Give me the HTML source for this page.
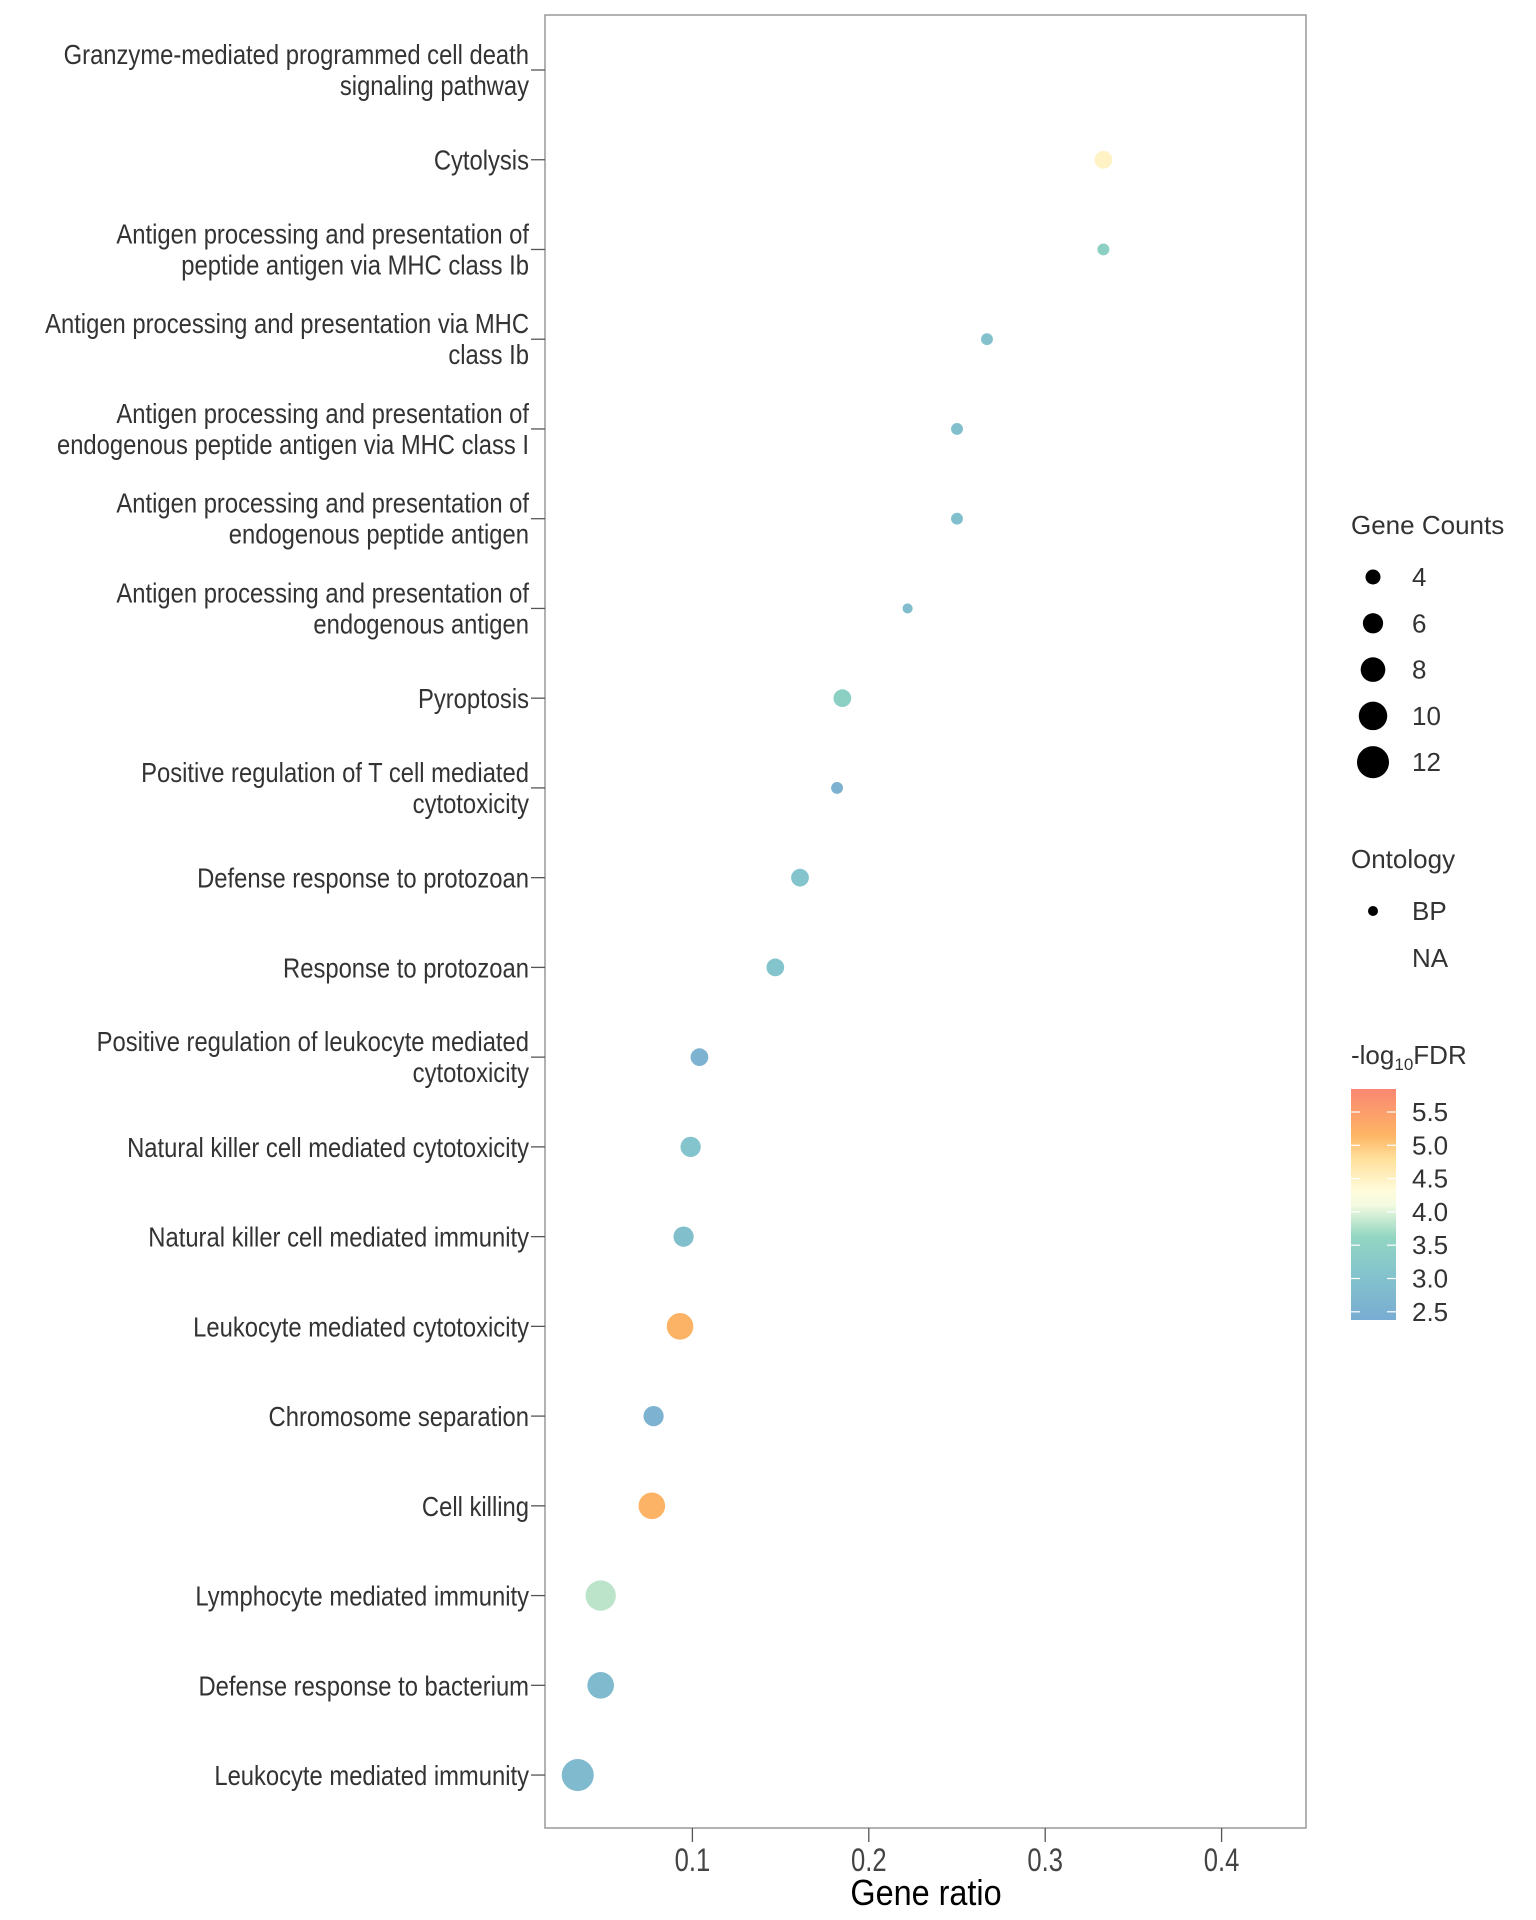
<!DOCTYPE html>
<html><head><meta charset="utf-8"><style>
body{margin:0;background:#fff;}
svg{display:block;font-family:"Liberation Sans",sans-serif;}
</style></head><body>
<svg id="chart" width="1536" height="1920" viewBox="0 0 1536 1920">
<defs>
<linearGradient id="fdrgrad" x1="0" y1="1" x2="0" y2="0">
<stop offset="0" stop-color="#79acd2"/>
<stop offset="0.2" stop-color="#84c4cc"/>
<stop offset="0.36" stop-color="#93d6c2"/>
<stop offset="0.5" stop-color="#f4fbe0"/>
<stop offset="0.56" stop-color="#fffbdb"/>
<stop offset="0.7" stop-color="#ffdf9a"/>
<stop offset="0.8" stop-color="#fdb565"/>
<stop offset="1" stop-color="#fa8672"/>
</linearGradient>
</defs>
<rect x="545" y="15" width="761" height="1813" fill="none" stroke="#999" stroke-width="1.5"/>
<g id="yaxis"></g>
<g id="xaxis"></g>
<g id="points"></g>
<text x="926" y="1905" text-anchor="middle" font-size="36" fill="#000" transform="translate(926 0) scale(0.9 1) translate(-926 0)">Gene ratio</text>
<g id="legend">
<text x="1351" y="534" font-size="26" fill="#333">Gene Counts</text>
<g id="sizeLegend"></g>
<text x="1351" y="868" font-size="26" fill="#333">Ontology</text>
<circle cx="1373" cy="911" r="5" fill="#000"/>
<text x="1412" y="920" font-size="26" fill="#333">BP</text>
<text x="1412" y="967" font-size="26" fill="#333">NA</text>
<text x="1351" y="1064" font-size="26" fill="#333">-log<tspan font-size="17" dy="6">10</tspan><tspan dy="-6">FDR</tspan></text>
<rect x="1351" y="1089" width="45" height="231" fill="url(#fdrgrad)"/>
<g id="cbTicks"></g>
</g>
</svg>
<script>
const categories = ["Granzyme-mediated programmed cell death|signaling pathway","Cytolysis","Antigen processing and presentation of|peptide antigen via MHC class Ib","Antigen processing and presentation via MHC|class Ib","Antigen processing and presentation of|endogenous peptide antigen via MHC class I","Antigen processing and presentation of|endogenous peptide antigen","Antigen processing and presentation of|endogenous antigen","Pyroptosis","Positive regulation of T cell mediated|cytotoxicity","Defense response to protozoan","Response to protozoan","Positive regulation of leukocyte mediated|cytotoxicity","Natural killer cell mediated cytotoxicity","Natural killer cell mediated immunity","Leukocyte mediated cytotoxicity","Chromosome separation","Cell killing","Lymphocyte mediated immunity","Defense response to bacterium","Leukocyte mediated immunity"];
const geneRatio = [null,0.333,0.333,0.267,0.25,0.25,0.222,0.185,0.182,0.161,0.147,0.104,0.099,0.095,0.093,0.078,0.077,0.048,0.048,0.035];
const geneCounts = [null,5,3,3,3,3,2.5,5,3,5,5,5,6,6,9,6,9,11,9,12];
const fdr = [null,4.3,3.3,2.95,2.9,2.9,2.85,3.3,2.55,3.0,3.0,2.6,3.0,2.9,4.9,2.6,4.9,3.7,2.8,2.8];
const xTicks = [0.1,0.2,0.3,0.4];
const sizeKeys = [4,6,8,10,12];
const cbTicks = [2.5,3.0,3.5,4.0,4.5,5.0,5.5];

const NS="http://www.w3.org/2000/svg";
const xs = v => 516 + v*1764;
const ys = i => 70 + i*89.74;
const rs = c => 5.82*Math.sqrt(c) - 4.14;
const cy = v => 1112 + (5.5 - v)*66.6;
const stops=[[2.38,[121,172,210]],[2.8,[128,186,206]],[3.0,[132,196,204]],[3.3,[140,208,196]],[3.6,[168,220,196]],[4.0,[244,251,224]],[4.2,[255,251,219]],[4.5,[255,223,154]],[4.85,[253,181,101]],[5.85,[250,134,114]]];
function col(v){for(let i=0;i<stops.length-1;i++){const[a,ca]=stops[i],[b,cb]=stops[i+1];if(v<=b){const t=Math.max(0,(v-a)/(b-a));return `rgb(${ca.map((x,k)=>Math.round(x+(cb[k]-x)*t)).join(',')})`;}}return 'rgb(250,134,114)';}
function mk(tag,attrs,parent){const e=document.createElementNS(NS,tag);for(const k in attrs)e.setAttribute(k,attrs[k]);parent.appendChild(e);return e;}

const yaxis=document.getElementById('yaxis');
categories.forEach((c,i)=>{
  const y=ys(i);
  const t=mk('line',{x1:531,x2:545,y1:y,y2:y,stroke:'#555','stroke-width':1.3},yaxis);
  
  
  const lines=c.split('|');
  const tx=mk('text',{x:529,'text-anchor':'end','font-size':28,fill:'#333',transform:`translate(529 0) scale(0.85 1) translate(-529 0)`},yaxis);
  
  
  lines.forEach((l,k)=>{const sp=mk('tspan',{x:529,y:(lines.length===1?y+10:y-6+k*31)},tx);sp.textContent=l;});
});
const xaxis=document.getElementById('xaxis');
xTicks.forEach(v=>{
  const x=xs(v);
  const t=mk('line',{x1:x,x2:x,y1:1828,y2:1842,stroke:'#555','stroke-width':1.3},xaxis);
  
  
  const tx=mk('text',{x:x,y:1871,'text-anchor':'middle','font-size':32,fill:'#444',transform:`translate(${x} 0) scale(0.8 1) translate(${-x} 0)`},xaxis);
  
  
  tx.textContent=v.toFixed(1);
});
const pts=document.getElementById('points');
geneRatio.forEach((v,i)=>{
  if(v===null)return;
  const c=mk('circle',{cx:xs(v),cy:ys(i),r:rs(geneCounts[i]),fill:col(fdr[i])},pts);
  
  
});
const sl=document.getElementById('sizeLegend');
sizeKeys.forEach((s,k)=>{
  const y=577+k*46.3;
  const c=mk('circle',{cx:1373,cy:y,r:rs(s),fill:'#000'},sl);
  
  
  const t=mk('text',{x:1412,y:y+9,'font-size':26,fill:'#333'},sl);
  
  
  t.textContent=s;
});
const cb=document.getElementById('cbTicks');
cbTicks.forEach(v=>{
  const y=cy(v);
  const a=mk('line',{x1:1351,x2:1360,y1:y,y2:y,stroke:'#fff','stroke-width':1.2},cb);
  
  
  const b=mk('line',{x1:1387,x2:1396,y1:y,y2:y,stroke:'#fff','stroke-width':1.2},cb);
  
  
  const t=mk('text',{x:1412,y:y+9,'font-size':26,fill:'#333'},cb);
  
  
  t.textContent=v.toFixed(1);
});
</script>
</body></html>
